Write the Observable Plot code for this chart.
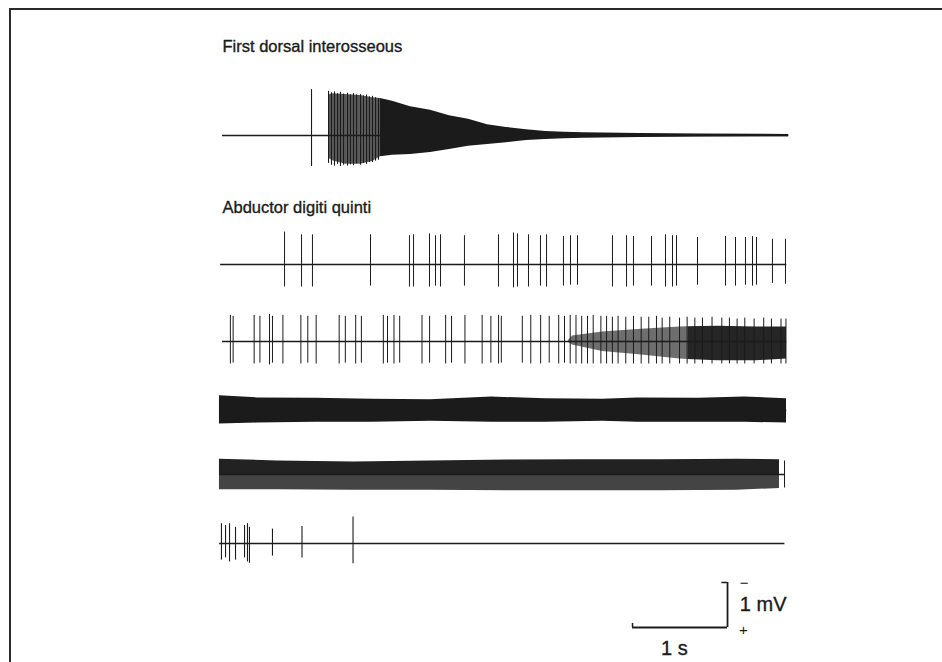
<!DOCTYPE html>
<html><head><meta charset="utf-8">
<script src="https://cdn.jsdelivr.net/npm/d3@7"></script>
<script src="https://cdn.jsdelivr.net/npm/@observablehq/plot@0.6"></script>
<style>
html,body{margin:0;padding:0;background:#fff;}
#wrap{position:relative;width:942px;height:662px;overflow:hidden;background:#fff;}
#wrap svg{position:absolute;left:0;top:0;}
#frame{position:absolute;left:9px;top:8px;right:-20px;bottom:-20px;border-top:2.5px solid #2b2b2b;border-left:2.5px solid #2b2b2b;pointer-events:none;}
</style></head><body><div id="wrap"><div id="frame"></div></div>
<script>
// ---------------- data (time in s, amplitude in mV) ----------------
const muscleLabels = ["First dorsal interosseous", "Abductor digiti quinti"];
const traceStart = [0, -0.02, 0, -0.03, -0.03, -0.03];
const traceEnd   = [5.96, 5.94, 5.94, 5.94, 5.92, 5.92];

// Trace 1: First dorsal interosseous
const t1SpikeT    = [0.937, 1.116, 1.147, 1.179, 1.211, 1.242, 1.274, 1.316, 1.347, 1.379, 1.411, 1.453, 1.484, 1.516, 1.547, 1.579, 1.611, 1.642];
const t1SpikeUp   = [1.02, 0.98, 0.95, 0.97, 0.93, 0.96, 0.92, 0.94, 0.90, 0.93, 0.90, 0.91, 0.88, 0.90, 0.86, 0.87, 0.84, 0.82];
const t1SpikeDown = [0.69, 0.62, 0.66, 0.68, 0.64, 0.69, 0.66, 0.68, 0.65, 0.67, 0.63, 0.66, 0.62, 0.64, 0.60, 0.60, 0.57, 0.55];
const t1EnvT    = [1.116, 1.158, 1.295, 1.453, 1.579, 1.663, 1.789, 1.979, 2.189, 2.389, 2.589, 2.789, 2.989, 3.2, 3.4, 3.6, 3.8, 4.4, 5.03, 5.96];
const t1EnvUp   = [0.90, 0.93, 0.91, 0.89, 0.84, 0.82, 0.76, 0.64, 0.56, 0.44, 0.36, 0.24, 0.18, 0.13, 0.09, 0.07, 0.06, 0.045, 0.035, 0.025];
const t1EnvDown = [0.50, 0.56, 0.64, 0.64, 0.58, 0.47, 0.44, 0.42, 0.38, 0.31, 0.24, 0.20, 0.16, 0.11, 0.09, 0.07, 0.06, 0.045, 0.035, 0.025];

// Trace 2: Abductor digiti quinti, sparse firing
const t2SpikeT    = [0.653, 0.832, 0.947, 1.558, 1.968, 2.011, 2.179, 2.242, 2.295, 2.547, 2.905, 3.063, 3.105, 3.221, 3.347, 3.411, 3.589, 3.663, 3.737, 4.105, 4.253, 4.326, 4.516, 4.663, 4.737, 4.779, 5.0, 5.295, 5.4, 5.505, 5.579, 5.621, 5.789, 5.926];
const t2SpikeUp   = [0.72, 0.66, 0.66, 0.66, 0.64, 0.66, 0.68, 0.64, 0.66, 0.64, 0.66, 0.70, 0.68, 0.66, 0.64, 0.66, 0.62, 0.64, 0.64, 0.64, 0.64, 0.62, 0.62, 0.66, 0.64, 0.64, 0.60, 0.62, 0.60, 0.60, 0.62, 0.60, 0.56, 0.56];
const t2SpikeDown = [0.50, 0.50, 0.50, 0.48, 0.50, 0.50, 0.50, 0.48, 0.50, 0.48, 0.50, 0.52, 0.50, 0.50, 0.48, 0.50, 0.48, 0.46, 0.46, 0.50, 0.50, 0.48, 0.48, 0.50, 0.50, 0.48, 0.46, 0.48, 0.48, 0.46, 0.48, 0.46, 0.42, 0.44];

// Trace 3: Abductor digiti quinti, recruitment
const t3SpikeT = [0.083, 0.112, 0.333, 0.394, 0.495, 0.526, 0.636, 0.825, 0.898, 0.986, 1.228, 1.293, 1.402, 1.462, 1.693, 1.737, 1.805, 1.865, 2.1, 2.18, 2.349, 2.411, 2.552, 2.733, 2.825, 2.906, 2.935, 3.156, 3.245, 3.349, 3.439, 3.539, 3.6, 3.66,
  3.721, 3.781, 3.842, 3.902, 3.983, 4.043, 4.104, 4.164, 4.245, 4.326, 4.407, 4.487, 4.568, 4.628, 4.708, 4.811, 4.891, 4.972, 5.052, 5.153, 5.256, 5.336, 5.417, 5.498, 5.596, 5.697, 5.778, 5.879, 5.931];
const t3SpikeUp = [0.58, 0.56, 0.58, 0.56, 0.60, 0.56, 0.58, 0.58, 0.56, 0.58, 0.58, 0.56, 0.58, 0.56, 0.58, 0.56, 0.58, 0.56, 0.58, 0.56, 0.58, 0.56, 0.58, 0.58, 0.56, 0.58, 0.56, 0.56, 0.58, 0.58, 0.56, 0.58, 0.56, 0.58,
  0.58, 0.56, 0.56, 0.58, 0.56, 0.56, 0.54, 0.56, 0.54, 0.56, 0.54, 0.54, 0.56, 0.52, 0.54, 0.52, 0.54, 0.52, 0.52, 0.54, 0.52, 0.52, 0.50, 0.52, 0.50, 0.52, 0.50, 0.50, 0.50];
const t3SpikeDown = [0.50, 0.48, 0.50, 0.48, 0.52, 0.48, 0.50, 0.50, 0.48, 0.50, 0.50, 0.48, 0.50, 0.48, 0.50, 0.48, 0.50, 0.48, 0.50, 0.48, 0.50, 0.48, 0.50, 0.50, 0.48, 0.50, 0.48, 0.48, 0.50, 0.50, 0.48, 0.50, 0.48, 0.50,
  0.50, 0.50, 0.50, 0.50, 0.50, 0.50, 0.50, 0.50, 0.50, 0.50, 0.50, 0.50, 0.50, 0.50, 0.50, 0.50, 0.50, 0.50, 0.50, 0.50, 0.50, 0.50, 0.50, 0.50, 0.50, 0.50, 0.50, 0.50, 0.50];
const t3EnvT    = [3.642, 3.684, 4.0, 4.411, 4.811, 4.9, 5.211, 5.621, 5.937];
const t3EnvUp   = [0.02, 0.12, 0.21, 0.27, 0.32, 0.33, 0.34, 0.32, 0.32];
const t3EnvDown = [0.02, 0.08, 0.22, 0.30, 0.39, 0.40, 0.43, 0.43, 0.39];

// Trace 4: dense interference pattern
const t4EnvT    = [-0.032, 0.368, 0.979, 1.579, 2.189, 2.832, 3.4, 4.0, 4.368, 5.011, 5.495, 5.937];
const t4EnvUp   = [0.33, 0.28, 0.27, 0.25, 0.24, 0.30, 0.26, 0.25, 0.28, 0.27, 0.30, 0.26];
const t4EnvDown = [0.30, 0.28, 0.26, 0.26, 0.24, 0.26, 0.26, 0.24, 0.26, 0.26, 0.26, 0.28];

// Trace 5: dense interference pattern
const t5EnvT    = [-0.032, 0.579, 1.379, 2.189, 3.0, 3.8, 4.611, 5.411, 5.863];
const t5EnvUp   = [0.34, 0.30, 0.28, 0.30, 0.32, 0.33, 0.33, 0.34, 0.33];
const t5EnvDown = [0.34, 0.34, 0.35, 0.35, 0.36, 0.36, 0.36, 0.35, 0.31];
const t5SpikeT = [5.916], t5SpikeUp = [0.30], t5SpikeDown = [0.30];

// Trace 6: firing stops
const t6SpikeT    = [-0.011, 0.032, 0.074, 0.137, 0.232, 0.263, 0.284, 0.526, 0.837, 1.374];
const t6SpikeUp   = [0.44, 0.40, 0.44, 0.36, 0.40, 0.44, 0.36, 0.32, 0.38, 0.59];
const t6SpikeDown = [0.37, 0.32, 0.41, 0.37, 0.32, 0.41, 0.44, 0.28, 0.32, 0.45];

// Calibration
const calSeconds = 1, calMV = 1;
const calLabels = ["1 s", "1 mV", "\u2212", "+"];

// ---------------- layout ----------------
const PXMV = 45;                       // pixels per mV
const H = 662, W = 942;
const rowBasePx = [135, 264, 341, 410, 474, 543];
const base = rowBasePx.map(p => p / PXMV);
const labelY = [46, 207].map(p => p / PXMV);
const calBase = 627 / PXMV, calStart = 4.316;

const spikes = (i, T, U, D) => T.map((t, k) => ({t, y1: base[i] - U[k], y2: base[i] + D[k]}));
const env = (i, T, U, D) => T.map((t, k) => ({t, y1: base[i] - U[k], y2: base[i] + D[k]}));
const half = (i, T, U, sign) => T.map((t, k) => ({t, y1: base[i], y2: base[i] - sign * U[k]}));

const baselines = traceStart.map((s, i) => ({x1: s, x2: traceEnd[i], y: base[i]}));
const ink = "#1b1b1b";
const t1Env = env(0, t1EnvT, t1EnvUp, t1EnvDown);
const t3Env = env(2, t3EnvT, t3EnvUp, t3EnvDown);
const textStyle = {fill: ink, stroke: ink, strokeWidth: 0.35};

const chart = Plot.plot({
  width: W, height: H, margin: 0,
  x: {domain: [0, 6], range: [222, 792], axis: null},
  y: {domain: [0, H / PXMV], range: [0, H], axis: null},
  style: {background: "transparent", fontFamily: "'Liberation Sans', Arial, Helvetica, sans-serif", color: ink},
  marks: [
    // trace 1
    Plot.areaY(t1Env.filter(d => d.t <= 1.7), {x: "t", y1: "y1", y2: "y2", fill: "#5a5a5a", curve: "linear"}),
    Plot.areaY(t1Env.filter(d => d.t >= 1.663), {x: "t", y1: "y1", y2: "y2", fill: ink, curve: "linear"}),
    Plot.ruleX(spikes(0, t1SpikeT, t1SpikeUp, t1SpikeDown), {x: "t", y1: "y1", y2: "y2", stroke: ink, strokeWidth: 1.1}),
    // trace 2
    Plot.ruleX(spikes(1, t2SpikeT, t2SpikeUp, t2SpikeDown), {x: "t", y1: "y1", y2: "y2", stroke: ink, strokeWidth: 1}),
    // trace 3
    Plot.areaY(t3Env.filter(d => d.t <= 4.9), {x: "t", y1: "y1", y2: "y2", fill: "#6e6e6e"}),
    Plot.areaY(t3Env.filter(d => d.t >= 4.9), {x: "t", y1: "y1", y2: "y2", fill: "#262626"}),
    Plot.ruleX(spikes(2, t3SpikeT, t3SpikeUp, t3SpikeDown), {x: "t", y1: "y1", y2: "y2", stroke: ink, strokeWidth: 1}),
    // trace 4
    Plot.areaY(env(3, t4EnvT, t4EnvUp, t4EnvDown), {x: "t", y1: "y1", y2: "y2", fill: ink}),
    // trace 5
    Plot.areaY(half(4, t5EnvT, t5EnvUp, 1), {x: "t", y1: "y1", y2: "y2", fill: "#222"}),
    Plot.areaY(half(4, t5EnvT, t5EnvDown, -1), {x: "t", y1: "y1", y2: "y2", fill: "#444"}),
    Plot.ruleX(spikes(4, t5SpikeT, t5SpikeUp, t5SpikeDown), {x: "t", y1: "y1", y2: "y2", stroke: ink, strokeWidth: 1}),
    // trace 6
    Plot.ruleX(spikes(5, t6SpikeT, t6SpikeUp, t6SpikeDown), {x: "t", y1: "y1", y2: "y2", stroke: ink, strokeWidth: 1.1}),
    // baselines
    Plot.ruleY(baselines, {y: "y", x1: "x1", x2: "x2", stroke: ink, strokeWidth: 1.7}),
    // muscle labels
    Plot.text(muscleLabels, {x: 0, y: (d, i) => labelY[i], text: d => d, textAnchor: "start", lineAnchor: "middle", fontSize: 16.5, ...textStyle}),
    // calibration bar
    Plot.ruleY([calSeconds], {y: calBase, x1: calStart, x2: d => calStart + d, stroke: ink, strokeWidth: 1.8}),
    Plot.ruleX([calMV], {x: calStart + calSeconds, y1: calBase, y2: d => calBase - d, stroke: ink, strokeWidth: 1.8}),
    Plot.ruleX([0.09], {x: calStart, y1: calBase, y2: d => calBase - d, stroke: ink, strokeWidth: 1.5}),
    Plot.ruleY([0.06], {y: calBase - calMV, x1: d => calStart + calSeconds - d, x2: calStart + calSeconds, stroke: ink, strokeWidth: 1.5}),
    Plot.text([calLabels[0]], {x: calStart + calSeconds / 2 - 0.06, y: calBase + 0.47, text: d => d, fontSize: 20, lineAnchor: "middle", ...textStyle}),
    Plot.text([calLabels[1]], {x: calStart + calSeconds + 0.13, y: calBase - calMV / 2, text: d => d, fontSize: 20, textAnchor: "start", lineAnchor: "middle", ...textStyle}),
    Plot.text([calLabels[2]], {x: calStart + calSeconds + 0.13, y: calBase - calMV + 0.02, text: d => d, fontSize: 15, textAnchor: "start", lineAnchor: "middle", fill: ink}),
    Plot.text([calLabels[3]], {x: calStart + calSeconds + 0.12, y: calBase + 0.07, text: d => d, fontSize: 15, textAnchor: "start", lineAnchor: "middle", fill: ink})
  ]
});
document.getElementById("wrap").prepend(chart);
</script>
</body></html>
